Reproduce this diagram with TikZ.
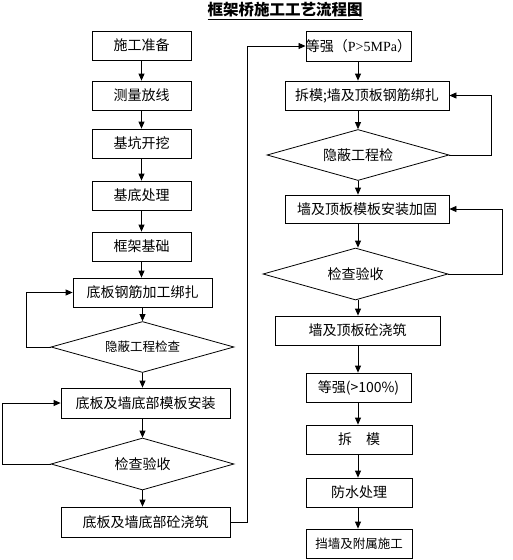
\documentclass[tikz,border=0pt]{standalone}
\usepackage{fontspec}
\usepackage{tikz}
\usetikzlibrary{shapes.geometric, arrows.meta, positioning}
\newfontfamily\cjk{Noto Sans CJK SC}
\newfontfamily\latinserif{Liberation Serif}
\tikzstyle{stepbox} = [draw, line width=0.8pt, inner sep=0pt, minimum height=29pt, font=\cjk\fontsize{14}{16}\selectfont, align=center]
\tikzstyle{checkbox} = [diamond, draw, line width=0.8pt, inner sep=0pt, aspect=3.6, font=\cjk\fontsize{14}{16}\selectfont, align=center]
\tikzstyle{arrow} = [line width=0.8pt, -{Triangle[length=7pt,width=6pt]}]

\begin{document}
\begin{tikzpicture}[x=1pt,y=-1pt]
\useasboundingbox (0,0) rectangle (512,560);

% title
\node[font=\cjk\bfseries\fontsize{15.5}{17}\selectfont] (title) at (285,11) {\underline{框架桥施工工艺流程图}};

% left column
\node[stepbox, minimum width=99pt] (prep) at (141.5,45.5) {施工准备};
\node[stepbox, minimum width=99pt] (survey) at (141.5,95.5) {测量放线};
\node[stepbox, minimum width=99pt] (dig) at (141.5,143.5) {基坑开挖};
\node[stepbox, minimum width=99pt] (base) at (141.5,195.5) {基底处理};
\node[stepbox, minimum width=99pt] (found) at (141.5,246.5) {框架基础};
\node[stepbox, minimum width=139pt] (rebarA) at (142.5,292.5) {底板钢筋加工绑扎};
\node[checkbox, minimum width=183pt, minimum height=51pt, font=\cjk\fontsize{12.5}{14}\selectfont] (hideA) at (142.5,347) {隐蔽工程检查};
\node[stepbox, minimum width=169pt, minimum height=30pt] (formA) at (145.5,403) {底板及墙底部模板安装};
\node[checkbox, minimum width=183pt, minimum height=52pt] (checkA) at (142.5,464) {检查验收};
\node[stepbox, minimum width=169pt, minimum height=30pt] (pourA) at (145.5,522) {底板及墙底部砼浇筑};

\draw[arrow] (prep) -- (survey);
\draw[arrow] (survey) -- (dig);
\draw[arrow] (dig) -- (base);
\draw[arrow] (base) -- (found);
\draw[arrow] (found.south) -- (found.south |- rebarA.north);
\draw[arrow] (rebarA) -- (hideA);
\draw[arrow] (hideA.south) -- (hideA.south |- formA.north);
\draw[arrow] (formA.south -| checkA.north) -- (checkA.north);
\draw[arrow] (checkA.south) -- (checkA.south |- pourA.north);

\draw[arrow] (hideA.west) -- ++(-24,0) |- (rebarA.west);
\draw[arrow] (checkA.west) -- ++(-48,0) |- (formA.west);

% right column
\node[stepbox, minimum width=105pt, minimum height=30pt] (cure) at (358.5,46) {等强（{\latinserif P>5MPa}）};
\node[stepbox, minimum width=164pt] (rebarB) at (367,95.5) {拆模;墙及顶板钢筋绑扎};
\node[checkbox, minimum width=182pt, minimum height=51pt] (hideB) at (358,155) {隐蔽工程检};
\node[stepbox, minimum width=164pt, minimum height=28pt] (formB) at (367,209) {墙及顶板模板安装加固};
\node[checkbox, minimum width=185pt, minimum height=52pt] (checkB) at (355.5,274) {检查验收};
\node[stepbox, minimum width=165pt] (pourB) at (357.5,330.5) {墙及顶板砼浇筑};
\node[stepbox, minimum width=105pt] (cureB) at (358.5,387.5) {等强(>100\%)};
\node[stepbox, minimum width=106pt] (strip) at (359,439.5) {拆\quad 模};
\node[stepbox, minimum width=106pt] (water) at (359,492.5) {防水处理};
\node[stepbox, minimum width=106pt, font=\cjk\fontsize{12.5}{14}\selectfont] (wall) at (359,543.5) {挡墙及附属施工};

\draw[arrow] (cure.south -| hideB.north) -- (hideB.north |- rebarB.north);
\draw[arrow] (rebarB.south -| hideB.north) -- (hideB.north);
\draw[arrow] (hideB.south) -- (hideB.south |- formB.north);
\draw[arrow] (formB.south -| hideB.south) -- (hideB.south |- checkB.north);
\draw[arrow] (checkB.south -| hideB.south) -- (hideB.south |- pourB.north);
\draw[arrow] (pourB.south -| hideB.south) -- (hideB.south |- cureB.north);
\draw[arrow] (cureB.south -| hideB.south) -- (hideB.south |- strip.north);
\draw[arrow] (strip.south -| hideB.south) -- (hideB.south |- water.north);
\draw[arrow] (water.south -| hideB.south) -- (hideB.south |- wall.north);

\draw[arrow] (hideB.east) -- ++(42,0) |- (rebarB.east);
\draw[arrow] (checkB.east) -- ++(54,0) |- (formB.east);

% link between columns
\draw[arrow] (pourA.east) -- ++(17,0) |- (cure.west);
\end{tikzpicture}
\end{document}
